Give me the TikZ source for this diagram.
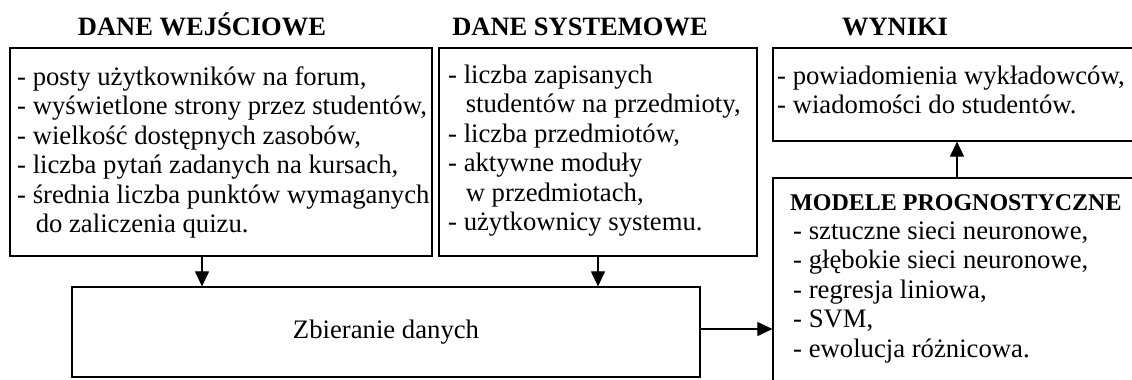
\documentclass[tikz,border=0pt]{standalone}
\usepackage{fontspec}
\setmainfont{Liberation Serif}
\usetikzlibrary{arrows.meta}
\begin{document}
\begin{tikzpicture}[x=1pt,y=-1pt,
  box/.style={draw, line width=1.2pt, inner sep=0pt},
  txt/.style={anchor=north west, align=left, inner sep=0pt, font=\fontsize{26.7}{29.5}\selectfont},
  ttl/.style={anchor=base, inner sep=0pt, font=\fontsize{26.5}{30}\selectfont\bfseries},
  arr/.style={line width=1.1pt, -{Triangle[length=15pt,width=14pt]}}]
\useasboundingbox (0,0) rectangle (1132,380);
\clip (0,0) rectangle (1132,380);
% titles
\node[ttl] (t1) at (202,35) {DANE WEJŚCIOWE};
\node[ttl] (t2) at (580,35) {DANE SYSTEMOWE};
\node[ttl] (t3) at (895,35) {WYNIKI};
% boxes
\node[box, minimum width=422pt, minimum height=208pt] (we) at (221,152) {};
\node[box, minimum width=318pt, minimum height=208pt] (sy) at (598,152) {};
\node[box, minimum width=368pt, minimum height=93pt] (wy) at (957,94.5) {};
\node[box, minimum width=368pt, minimum height=215pt] (mo) at (957,285.5) {};
\node[box, minimum width=628pt, minimum height=90pt, font=\fontsize{26.7}{29.5}\selectfont] (zb) at (386,332) {Zbieranie danych};
% texts
\node[txt] (wetxt) at (17,65) {\rule{0pt}{20pt}- posty użytkowników na forum,\\
- wyświetlone strony przez studentów,\\
- wielkość dostępnych zasobów,\\
- liczba pytań zadanych na kursach,\\
- średnia liczba punktów wymaganych\\
\hphantom{- }\hspace{3pt}do zaliczenia quizu.};
\node[txt] (sytxt) at (448,63) {\rule{0pt}{20pt}- liczba zapisanych\\
\hphantom{- }\hspace{2pt}studentów na przedmioty,\\
- liczba przedmiotów,\\
- aktywne moduły\\
\hphantom{- }\hspace{2pt}w przedmiotach,\\
- użytkownicy systemu.};
\node[txt] (wytxt) at (777,64) {\rule{0pt}{20pt}- powiadomienia wykładowców,\\
- wiadomości do studentów.};
\node[anchor=base west, inner sep=0pt, font=\fontsize{24}{28}\selectfont\bfseries] (motit) at (790,210) {MODELE PROGNOSTYCZNE};
\node[txt] (motxt) at (793,219) {\rule{0pt}{20pt}- sztuczne sieci neuronowe,\\
- głębokie sieci neuronowe,\\
- regresja liniowa,\\
- SVM,\\
- ewolucja różnicowa.};
% arrows
\draw[arr] ([xshift=-19pt]we.south) -- ([xshift=-19pt]we.south |- zb.north);
\draw[arr] (sy.south) -- (sy.south |- zb.north);
\draw[arr] ([yshift=3pt]zb.east) -- ([yshift=3pt]zb.east -| mo.west);
\draw[arr] (mo.north) -- (wy.south);
\end{tikzpicture}
\end{document}
